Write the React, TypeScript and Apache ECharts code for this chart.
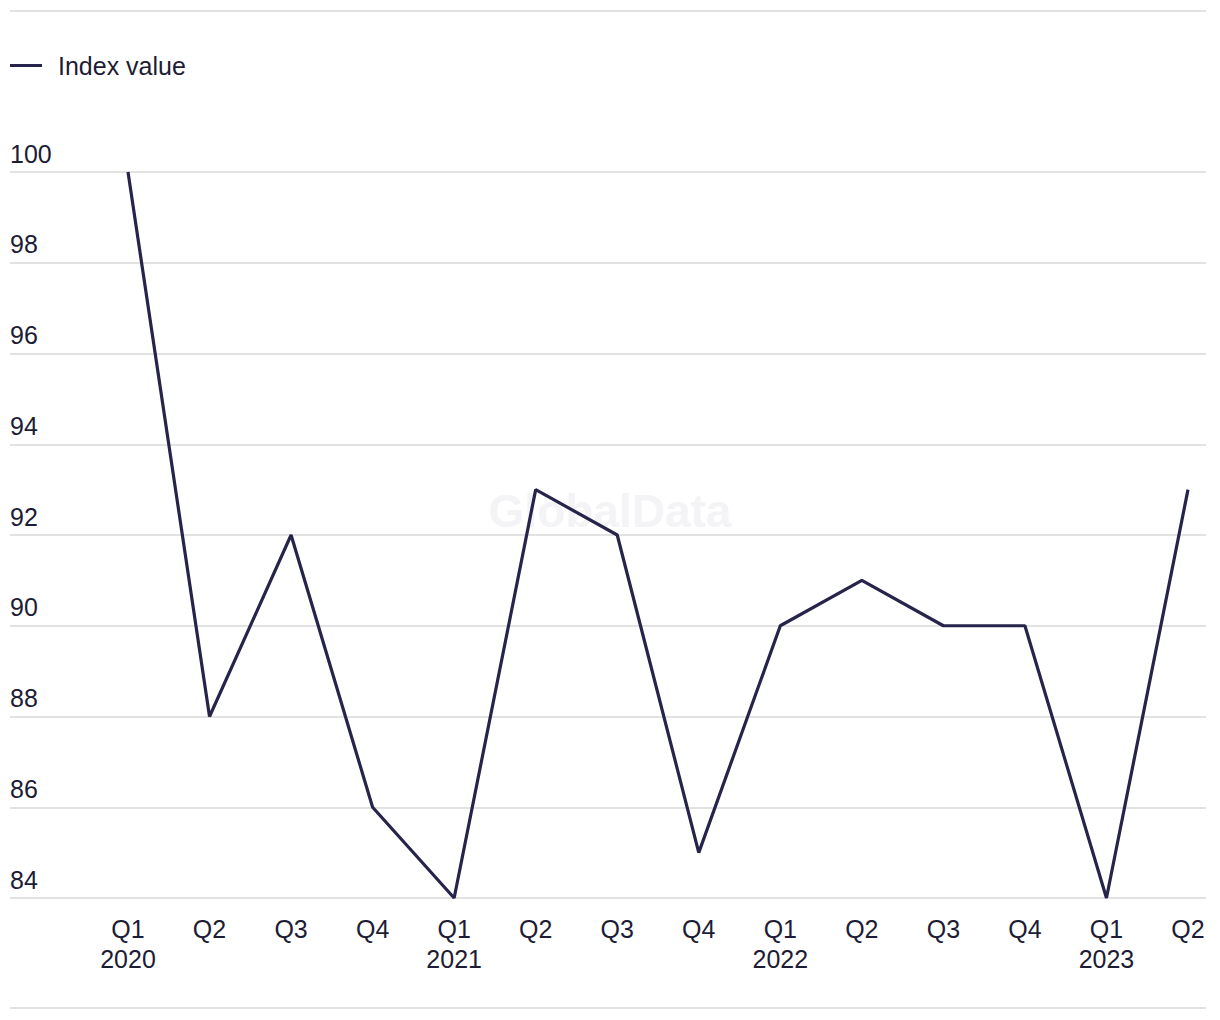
import React, { useEffect, useRef } from "react";
import * as echarts from "echarts";

const quarters = ["Q1", "Q2", "Q3", "Q4", "Q1", "Q2", "Q3", "Q4", "Q1", "Q2", "Q3", "Q4", "Q1", "Q2"];
const years = ["2020", "", "", "", "2021", "", "", "", "2022", "", "", "", "2023", ""];
const indexValues = [100, 88, 92, 86, 84, 93, 92, 85, 90, 91, 90, 90, 84, 93];
const seriesName = "Index value";

const FONT = "'Liberation Sans', Arial, sans-serif";
const TEXT = "#1d1c35";
const LINE = "#26244b";
const GRID = "#d9d9d9";
const FS = 25;

export default function App() {
  const ref = useRef<HTMLDivElement>(null);
  useEffect(() => {
    document.body.style.margin = "0";
    const chart = echarts.init(ref.current!, null, { renderer: "svg" });
    const categories = quarters.map((q, i) => (years[i] ? `${q}\n${years[i]}` : q));
    chart.setOption({
      animation: false,
      backgroundColor: "#ffffff",
      textStyle: { fontFamily: FONT },
      legend: {
        left: 5,
        top: 48,
        icon: "rect",
        itemWidth: 32,
        itemHeight: 3,
        textStyle: { color: TEXT, fontSize: FS, fontFamily: FONT, padding: [0, 0, 0, 11] },
        data: [seriesName],
      },
      grid: [
        { left: 10, right: 14, top: 172, bottom: 122, containLabel: false },
        { left: 128, right: 32, top: 172, bottom: 122, containLabel: false },
      ],
      xAxis: [
        { type: "value", gridIndex: 0, show: false, min: 0, max: 1 },
        {
          type: "category",
          gridIndex: 1,
          data: categories,
          boundaryGap: false,
          axisLine: { show: false },
          axisTick: { show: false },
          splitLine: { show: false },
          axisLabel: {
            interval: 0,
            color: TEXT,
            fontSize: FS,
            fontFamily: FONT,
            lineHeight: 30,
            margin: 16,
            align: "center",
          },
        },
      ],
      yAxis: [
        {
          type: "value",
          gridIndex: 0,
          min: 84,
          max: 100,
          interval: 2,
          axisLine: { show: false },
          axisTick: { show: false },
          splitLine: { show: true, lineStyle: { color: GRID, width: 1.5 } },
          axisLabel: {
            inside: true,
            margin: 0,
            verticalAlign: "bottom",
            padding: [0, 0, 6, 0],
            color: TEXT,
            fontSize: FS,
            fontFamily: FONT,
          },
        },
        { type: "value", gridIndex: 1, min: 84, max: 100, interval: 2, show: false },
      ],
      graphic: [
        {
          type: "line",
          shape: { x1: 10, y1: 11, x2: 1206, y2: 11 },
          style: { stroke: GRID, lineWidth: 1.5 },
        },
        {
          type: "line",
          shape: { x1: 10, y1: 1008, x2: 1206, y2: 1008 },
          style: { stroke: GRID, lineWidth: 1.5 },
        },
        {
          type: "text",
          x: 610,
          y: 511,
          z: -10,
          style: {
            text: "GlobalData",
            fill: "#f4f4f6",
            font: `bold 46px ${FONT}`,
            textAlign: "center",
            textVerticalAlign: "middle",
          },
        },
      ],
      series: [
        {
          name: seriesName,
          type: "line",
          xAxisIndex: 1,
          yAxisIndex: 1,
          data: indexValues,
          symbol: "none",
          color: LINE,
          lineStyle: { color: LINE, width: 3.2 },
          z: 5,
        },
      ],
    });
    return () => chart.dispose();
  }, []);
  return <div ref={ref} style={{ width: 1220, height: 1020 }} />;
}
